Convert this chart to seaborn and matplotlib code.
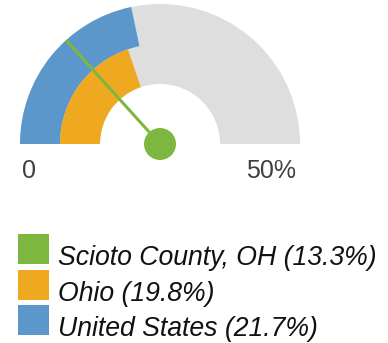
import matplotlib
matplotlib.use("Agg")
import matplotlib.pyplot as plt
from matplotlib.patches import Wedge, Circle, Rectangle
import numpy as np
import seaborn as sns

# Gauge data
scale_max = 50.0
series = ["Scioto County, OH", "Ohio", "United States"]
values = [13.3, 19.8, 21.7]
colors = ["#7db740", "#efa920", "#5b97cb"]
track_color = "#dedede"
tick_labels = ["0", "50%"]

sns.set_theme(style="white")
plt.rcParams["font.family"] = ["Liberation Sans", "DejaVu Sans"]

W, H = 388, 343
fig = plt.figure(figsize=(W / 100, H / 100), dpi=100)
ax = fig.add_axes([0, 0, 1, 1])
ax.set_xlim(0, W)
ax.set_ylim(0, H)
ax.set_aspect("equal")
ax.axis("off")

cx, cy = 160, H - 144
r_out, r_mid, r_in = 140, 100, 60


def angle(v):
    return 180.0 - 180.0 * v / scale_max


# background track
ax.add_patch(Wedge((cx, cy), r_out, 0, 180, width=r_out - r_in,
                   facecolor=track_color, edgecolor="none"))
# United States: outer band
ax.add_patch(Wedge((cx, cy), r_out, angle(values[2]), 180, width=r_out - r_mid,
                   facecolor=colors[2], edgecolor="none"))
# Ohio: inner band
ax.add_patch(Wedge((cx, cy), r_mid, angle(values[1]), 180, width=r_mid - r_in,
                   facecolor=colors[1], edgecolor="none"))
# Scioto County: needle
a = np.deg2rad(angle(values[0]))
ax.plot([cx, cx + r_out * np.cos(a)], [cy, cy + r_out * np.sin(a)],
        color=colors[0], lw=2.2, solid_capstyle="butt")
ax.add_patch(Circle((cx, cy), 16, facecolor=colors[0], edgecolor="none"))

# scale labels
ax.text(22, H - 178, tick_labels[0], fontsize=18, color="#404040",
        ha="left", va="baseline")
ax.text(296, H - 178, tick_labels[1], fontsize=18, color="#404040",
        ha="right", va="baseline")

# legend
sq_top = [234, 270, 305]
for name, val, col, top in zip(series, values, colors, sq_top):
    ax.add_patch(Rectangle((18, H - top - 30), 31, 30,
                           facecolor=col, edgecolor="none"))
    ax.text(58, H - top - 31, f"{name} ({val}%)", fontsize=19.2,
            style="italic", color="#111111", ha="left", va="baseline")

fig.savefig("out.png", dpi=100)
